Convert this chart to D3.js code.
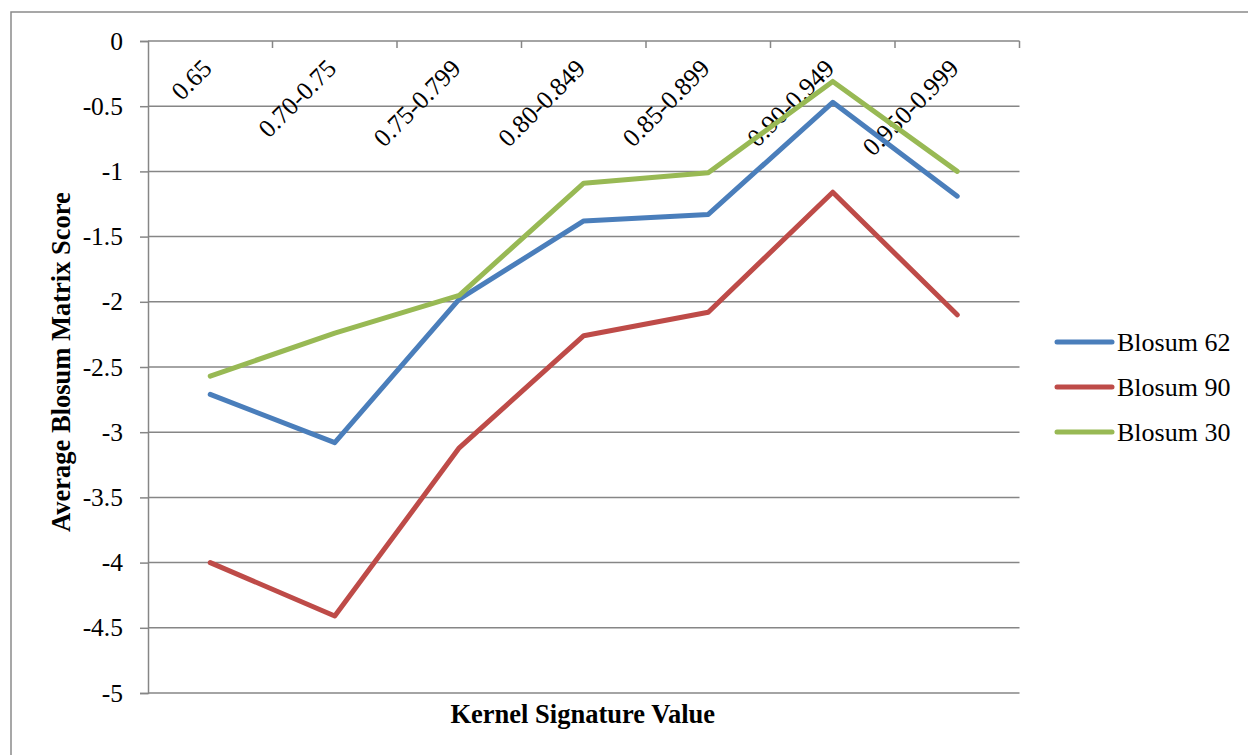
<!DOCTYPE html>
<html>
<head>
<meta charset="utf-8">
<script src="https://cdn.jsdelivr.net/npm/d3@7"></script>
<style>
  html, body { margin: 0; padding: 0; background: #ffffff; }
  svg { display: block; }
  text { font-family: "Liberation Serif", "Times New Roman", Tinos, serif; fill: #000; }
</style>
</head>
<body>
<svg id="chart" width="1248" height="755"></svg>
<script>
// Kernel signature bins (category axis)
const categories = ["0.65", "0.70-0.75", "0.75-0.799", "0.80-0.849", "0.85-0.899", "0.90-0.949", "0.950-0.999"];

// Average Blosum matrix score per bin
const blosum62 = [-2.71, -3.08, -1.98, -1.38, -1.33, -0.47, -1.19];
const blosum90 = [-4.00, -4.41, -3.12, -2.26, -2.08, -1.16, -2.10];
const blosum30 = [-2.57, -2.24, -1.95, -1.09, -1.01, -0.31, -1.00];

const seriesNames = ["Blosum 62", "Blosum 90", "Blosum 30"];
const seriesColors = ["#4A7EBB", "#BE4B48", "#98B954"];

// Value axis ticks
const yTicks = [0, -0.5, -1, -1.5, -2, -2.5, -3, -3.5, -4, -4.5, -5];

const xTitle = "Kernel Signature Value";
const yTitle = "Average Blosum Matrix Score";

const series = [blosum62, blosum90, blosum30].map((values, i) => ({
  name: seriesNames[i], color: seriesColors[i], values
}));

const serif = "'Liberation Serif', 'Times New Roman', Tinos, serif";
const svg = d3.select("#chart").style("font-family", serif);
const gridColor = "#868686";

const plot = { left: 148, right: 1019.5, top: 41, bottom: 693 };

const x = d3.scaleBand().domain(categories).range([plot.left, plot.right]).padding(0);
const y = d3.scaleLinear().domain([0, -5]).range([plot.top, plot.bottom]);

// Outer chart frame
svg.append("rect")
  .attr("x", 11).attr("y", 12)
  .attr("width", 1300).attr("height", 800)
  .attr("fill", "none").attr("stroke", "#8a8a8a").attr("stroke-width", 1.5);

// Horizontal gridlines
svg.append("g")
  .selectAll("line")
  .data(yTicks.filter(v => v !== 0))
  .join("line")
  .attr("x1", plot.left).attr("x2", plot.right)
  .attr("y1", d => y(d)).attr("y2", d => y(d))
  .attr("stroke", gridColor).attr("stroke-width", 1.5);

// Value axis (left)
const yAxis = d3.axisLeft(y)
  .tickValues(yTicks)
  .tickSize(8)
  .tickPadding(17)
  .tickFormat(d => d === 0 ? "0" : String(d));

const gy = svg.append("g")
  .attr("transform", `translate(${plot.left},0)`)
  .call(yAxis)
  .attr("font-family", serif)
  .attr("font-size", 25.5);
gy.select(".domain").attr("stroke", gridColor).attr("stroke-width", 1.5);
gy.selectAll(".tick line").attr("stroke", gridColor).attr("stroke-width", 1.5);
gy.selectAll(".tick text")
  .style("font-family", serif)
  .style("font-size", "25.5px")
  .attr("fill", "#000");

// Category axis along the zero line, with ticks between bins
const gx = svg.append("g");
gx.append("line")
  .attr("x1", plot.left).attr("x2", plot.right)
  .attr("y1", y(0)).attr("y2", y(0))
  .attr("stroke", gridColor).attr("stroke-width", 1.5);

const boundaries = categories.slice(1).map(c => x(c)).concat([plot.right]);
gx.selectAll("line.tick")
  .data(boundaries)
  .join("line")
  .attr("class", "tick")
  .attr("x1", d => d).attr("x2", d => d)
  .attr("y1", y(0)).attr("y2", y(0) + 7)
  .attr("stroke", gridColor).attr("stroke-width", 1.5);

// Rotated category labels
gx.selectAll("text")
  .data(categories)
  .join("text")
  .attr("transform", d => `translate(${x(d) + x.bandwidth() / 2 + 3},${y(0) + 29}) rotate(-45)`)
  .attr("text-anchor", "end")
  .style("font-family", serif)
  .style("font-size", "25.5px")
  .text(d => d);

// Series lines
const line = d3.line()
  .x((d, i) => x(categories[i]) + x.bandwidth() / 2)
  .y(d => y(d));

svg.append("g")
  .selectAll("path")
  .data(series)
  .join("path")
  .attr("d", d => line(d.values))
  .attr("fill", "none")
  .attr("stroke", d => d.color)
  .attr("stroke-width", 5)
  .attr("stroke-linejoin", "round")
  .attr("stroke-linecap", "round");

// Axis titles
svg.append("text")
  .attr("x", (plot.left + plot.right) / 2 - 1)
  .attr("y", 723)
  .attr("text-anchor", "middle")
  .style("font-family", serif)
  .style("font-size", "26.5px")
  .style("font-weight", "bold")
  .text(xTitle);

svg.append("text")
  .attr("transform", `translate(70,${(plot.top + plot.bottom) / 2 - 5}) rotate(-90)`)
  .attr("text-anchor", "middle")
  .style("font-family", serif)
  .style("font-size", "26.5px")
  .style("font-weight", "bold")
  .text(yTitle);

// Legend
const legend = svg.append("g")
  .selectAll("g")
  .data(series)
  .join("g")
  .attr("transform", (d, i) => `translate(1057,${342 + i * 45})`);

legend.append("line")
  .attr("x1", 0).attr("x2", 55)
  .attr("y1", 0).attr("y2", 0)
  .attr("stroke", d => d.color)
  .attr("stroke-width", 5)
  .attr("stroke-linecap", "round");

legend.append("text")
  .attr("x", 60).attr("y", 9)
  .style("font-family", serif)
  .style("font-size", "26px")
  .text(d => d.name);
</script>
</body>
</html>
